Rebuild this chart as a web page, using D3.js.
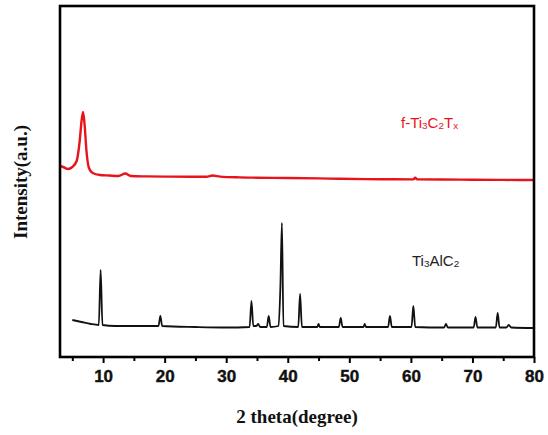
<!DOCTYPE html>
<html><head><meta charset="utf-8">
<script src="https://cdn.jsdelivr.net/npm/d3@7"></script>
<style>body{margin:0;background:#fff}</style>
</head><body>
<svg id="c" width="548" height="435"></svg>
<script>
// 2θ tick labels
const xTicks = [10, 20, 30, 40, 50, 60, 70, 80];
const xMinorTicks = [5, 15, 25, 35, 45, 55, 65, 75];

// f-Ti3C2Tx pattern: [2θ, intensity a.u.]
const ftiX = [3.0,3.5,4.3,5.0,5.7,6.2,6.5,6.75,7.0,7.3,7.7,8.3,9.5,11,12.5,13.6,14.5,17,20,24,26.8,27.8,29,32.2,35,40,45,48.5,55,60.4,60.7,61.0,65,70,75,80];
const ftiY = [191,190,188,190,196,216,236,245,232,206,189,184,182,181.5,181,183.5,181,180.6,180.4,180.2,180.2,181.5,180.4,179.6,179.3,179,178.6,178.2,177.8,177.6,179.4,177.6,177.5,177.3,177.1,177];

// Ti3AlC2 pattern: [2θ, intensity a.u.]
const tacX = [5.0,6.5,8.0,9.3,9.6,9.9,12,15,19.0,19.3,19.6,25,30,33.8,34.1,34.4,34.9,35.2,35.5,36.6,36.9,37.2,38.5,38.8,39.05,39.3,41.7,42.0,42.3,44.8,45.0,45.2,48.3,48.6,48.9,52.3,52.5,52.7,56.3,56.6,56.9,60.1,60.4,60.7,65.4,65.7,66.0,70.2,70.5,70.8,73.8,74.1,74.4,75.5,75.9,76.3,80];
const tacY = [37,35,33,32,87,32,31,31,31,41,31,30,29.5,30,56,31,31,33,30,30,41,30,31,70,134,31,30,63,30,30,33,30,30,39,30,30,33,30,30,41,30,30,51,30,29.5,33,29.5,29.5,40,29.5,29.5,44,29.5,29.5,32,29.5,29];

const svg = d3.select("#c");
const L = 60, R = 534, T = 6, B = 357;
const x = d3.scaleLinear().domain([3, 80]).range([L, R]);
const y = d3.scaleLinear().domain([0, 351]).range([B, T]);

const ftiData = ftiX.map((v, i) => [v, ftiY[i]]);
const tacData = tacX.map((v, i) => [v, tacY[i]]);
const line = d3.line().x(d => x(d[0])).y(d => y(d[1])).curve(d3.curveMonotoneX);

svg.append("path").datum(ftiData).attr("d", line)
  .attr("fill", "none").attr("stroke", "#e8141c").attr("stroke-width", 2.4).attr("stroke-linejoin", "round");
svg.append("path").datum(tacData).attr("d", line)
  .attr("fill", "none").attr("stroke", "#111").attr("stroke-width", 1.8).attr("stroke-linejoin", "round");

// frame
svg.append("rect").attr("x", L).attr("y", T).attr("width", R - L).attr("height", B - T)
  .attr("fill", "none").attr("stroke", "#000").attr("stroke-width", 2.6);

// x axis
const ax = svg.append("g").attr("transform", `translate(0,${B})`)
  .call(d3.axisBottom(x).tickValues(xTicks).tickSize(6).tickPadding(7).tickFormat(d3.format("d")));
ax.select(".domain").remove();
ax.selectAll(".tick line").attr("stroke", "#000").attr("stroke-width", 2);
ax.selectAll("text").style("font-family", "Arial, 'Liberation Sans', sans-serif").style("font-weight", "700")
  .style("font-size", "17px").style("fill", "#111").style("stroke", "#111").style("stroke-width", "0.4px");
const axm = svg.append("g").attr("transform", `translate(0,${B})`)
  .call(d3.axisBottom(x).tickValues(xMinorTicks).tickSize(4).tickFormat(""));
axm.select(".domain").remove();
axm.selectAll(".tick line").attr("stroke", "#000").attr("stroke-width", 2);

// axis titles
svg.append("text").attr("x", 297).attr("y", 423).attr("text-anchor", "middle")
  .style("font-family", "'Liberation Serif', 'Times New Roman', serif").style("font-weight", "bold")
  .style("font-size", "19px").style("fill", "#111").text("2 theta(degree)");
svg.append("text").attr("transform", "translate(27,182) rotate(-90)").attr("text-anchor", "middle")
  .style("font-family", "'Liberation Serif', 'Times New Roman', serif").style("font-weight", "bold")
  .style("font-size", "19px").style("fill", "#111").text("Intensity(a.u.)");

// series labels
function chem(xp, yp, parts, color, size) {
  const t = svg.append("text").attr("x", xp).attr("y", yp)
    .style("font-family", "'Liberation Sans', Arial, sans-serif").style("font-size", size + "px").style("fill", color);
  parts.forEach(p => {
    const s = t.append("tspan").text(p[0]);
    if (p[1]) s.style("font-size", (size * 0.66) + "px").attr("dy", 1);
    else s.attr("dy", p[2] ? -1 : 0);
  });
}
chem(401, 128, [["f-Ti"], ["3", true], ["C", false, true], ["2", true], ["T", false, true], ["x", true]], "#e8141c", 15);
chem(412, 266, [["Ti"], ["3", true], ["AlC", false, true], ["2", true]], "#222", 15);
</script>
</body></html>
